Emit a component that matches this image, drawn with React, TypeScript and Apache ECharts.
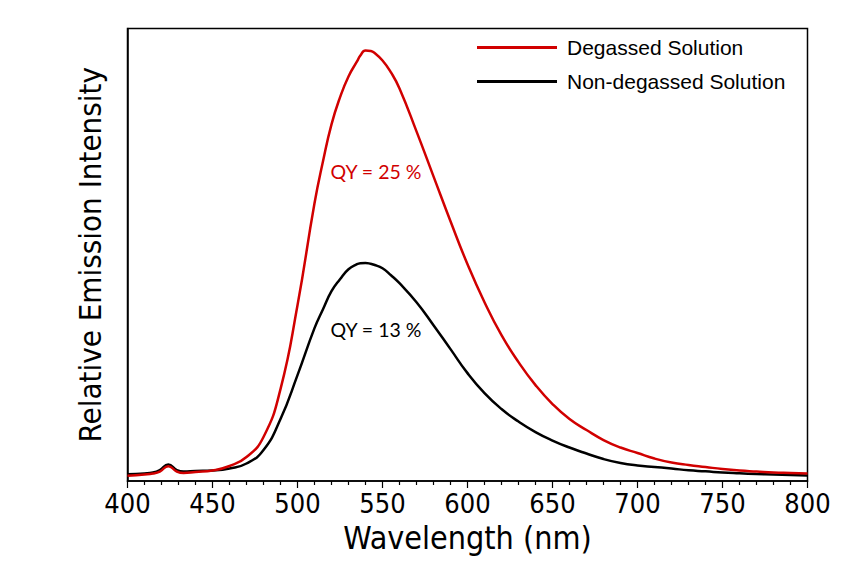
import React, { useEffect, useRef } from "react";
import * as echarts from "echarts";

const wavelengths = [400,410,415,419,424,429,433,440,450,460,470,480,490,500,510,515,520,525,530,535,537,540,543,545,550,555,560,570,580,590,600,610,620,630,640,650,660,670,680,690,700,710,720,730,740,750,760,770,780,790,800];
const degassed = [5.3,6.5,7.5,9.5,14.8,9.5,8,9,10.5,15,24,44,92,176,278,320,357,384,405,420,426,431,430.5,429,421,409,393,350,305,260,217,179,146,119,96,77,62,51,41,33.5,28,22.5,18.5,16,14,12,10.5,9.5,8.5,8,7.5];
const nonDegassed = [6.7,7.5,8.5,11,16.5,11,9.5,10,10.5,12.5,17.5,31,62,106,153,172,190,202,212,217,218,218.3,217.5,216.5,213,206,198,179,156,132,108,88,72,59.5,49,40.5,33.5,27.5,22,18,15.5,14,12.5,10.7,9.7,8.5,7.7,7,6.5,6,5.5];
const seriesNames = ["Degassed Solution", "Non-degassed Solution"];
const qyLabels = ["QY = 25 %", "QY = 13 %"];

const RED = "#d10000";
const TAHOMA = "'DejaVu Sans Condensed', 'DejaVu Sans', sans-serif";

export default function App() {
  const ref = useRef<HTMLDivElement>(null);
  useEffect(() => {
    const chart = echarts.init(ref.current!, null, { renderer: "svg" });
    chart.setOption({
      animation: false,
      backgroundColor: "#fff",
      grid: {
        left: 127.5, right: 42.5, top: 28.5, bottom: 85,
        show: true, borderColor: "#000", borderWidth: 1.5,
      },
      legend: {
        orient: "vertical",
        left: 472, top: 32,
        itemWidth: 80, itemHeight: 3, itemGap: 13,
        icon: "rect",
        textStyle: { fontFamily: "'Liberation Sans', Arial, sans-serif", fontSize: 21, color: "#000", lineHeight: 21, padding: [0, 0, 0, 5] },
        data: seriesNames,
      },
      xAxis: {
        type: "value", min: 400, max: 800, interval: 50,
        name: "Wavelength (nm)", nameLocation: "middle", nameGap: 38,
        nameTextStyle: { fontFamily: TAHOMA, fontSize: 32, color: "#000" },
        axisLine: { show: true, lineStyle: { color: "#000", width: 1.5 } },
        axisTick: { show: true, length: 7, lineStyle: { color: "#000", width: 1.2 } },
        minorTick: { show: true, splitNumber: 5, length: 4, lineStyle: { color: "#000", width: 1.2 } },
        splitLine: { show: false },
        axisLabel: { fontFamily: TAHOMA, fontSize: 27, color: "#000", margin: 9 },
      },
      yAxis: {
        type: "value", min: 0, max: 453,
        name: "Relative Emission Intensity", nameLocation: "middle", nameGap: 22,
        nameTextStyle: { fontFamily: TAHOMA, fontSize: 31, color: "#000" },
        axisLine: { show: true, lineStyle: { color: "#000", width: 1.5 } },
        axisTick: { show: false },
        axisLabel: { show: false },
        splitLine: { show: false },
      },
      series: [
        {
          name: seriesNames[0], type: "line", symbol: "none", smooth: 0.5,
          data: wavelengths.map((w, i) => [w, degassed[i]]),
          lineStyle: { color: RED, width: 2.5 }, itemStyle: { color: RED }, z: 3,
        },
        {
          name: seriesNames[1], type: "line", symbol: "none", smooth: 0.5,
          data: wavelengths.map((w, i) => [w, nonDegassed[i]]),
          lineStyle: { color: "#000", width: 2.5 }, itemStyle: { color: "#000" }, z: 2,
        },
      ],
      graphic: [
        { type: "text", x: 376, y: 171, style: { text: qyLabels[0], fill: RED, font: "19.5px Lato, sans-serif", align: "center", verticalAlign: "middle" } },
        { type: "text", x: 376, y: 329, style: { text: qyLabels[1], fill: "#000", font: "19.5px Lato, sans-serif", align: "center", verticalAlign: "middle" } },
      ],
    });
    return () => chart.dispose();
  }, []);
  return <div ref={ref} style={{ position: "fixed", left: 0, top: 0, width: 850, height: 566 }} />;
}
